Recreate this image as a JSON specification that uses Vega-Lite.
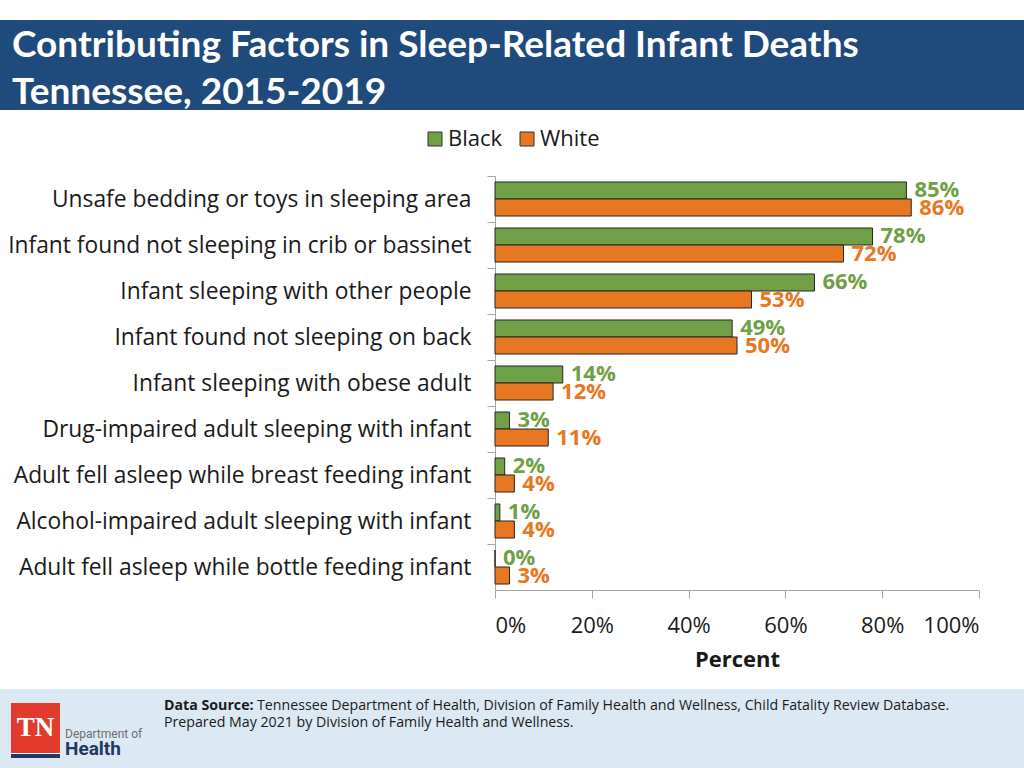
{
  "$schema": "https://vega.github.io/schema/vega-lite/v6.json",
  "padding": {"left": 0, "top": 20, "right": 0, "bottom": 0},
  "background": "white",
  "spacing": 17,
  "resolve": {"legend": {"color": "independent"}, "scale": {"color": "independent"}},
  "config": {"font": "Open Sans", "view": {"stroke": null}},
  "title": {
    "text": "Tennessee Department of Health, Division of Family Health and Wellness, Child Fatality Review Database.",
    "orient": "bottom", "anchor": "start", "frame": "bounds", "baseline": "alphabetic",
    "offset": -59, "dx": 257, "fontSize": 14.2, "fontWeight": "normal", "color": "#1a1a1a", "zindex": 1
  },
  "vconcat": [
    {
      "width": 1024,
      "height": 90,
      "view": {"fill": "#1F4A7C", "stroke": null},
      "data": {"values": []},
      "mark": {"type": "text"},
      "title": {
        "text": ["Contributing Factors in Sleep-Related Infant Deaths", "Tennessee, 2015-2019"],
        "orient": "bottom", "anchor": "start", "frame": "group", "baseline": "alphabetic",
        "offset": -53, "dx": 12,
        "font": "Lato", "fontSize": 37, "fontWeight": "bold", "color": "white", "lineHeight": 47
      }
    },
    {
      "width": 1024,
      "height": 414,
      "data": {"values": [
        {"factor": "Unsafe bedding or toys in sleeping area", "race": "Black", "pct": 0.85},
        {"factor": "Unsafe bedding or toys in sleeping area", "race": "White", "pct": 0.86},
        {"factor": "Infant found not sleeping in crib or bassinet", "race": "Black", "pct": 0.78},
        {"factor": "Infant found not sleeping in crib or bassinet", "race": "White", "pct": 0.72},
        {"factor": "Infant sleeping with other people", "race": "Black", "pct": 0.66},
        {"factor": "Infant sleeping with other people", "race": "White", "pct": 0.53},
        {"factor": "Infant found not sleeping on back", "race": "Black", "pct": 0.49},
        {"factor": "Infant found not sleeping on back", "race": "White", "pct": 0.50},
        {"factor": "Infant sleeping with obese adult", "race": "Black", "pct": 0.14},
        {"factor": "Infant sleeping with obese adult", "race": "White", "pct": 0.12},
        {"factor": "Drug-impaired adult sleeping with infant", "race": "Black", "pct": 0.03},
        {"factor": "Drug-impaired adult sleeping with infant", "race": "White", "pct": 0.11},
        {"factor": "Adult fell asleep while breast feeding infant", "race": "Black", "pct": 0.02},
        {"factor": "Adult fell asleep while breast feeding infant", "race": "White", "pct": 0.04},
        {"factor": "Alcohol-impaired adult sleeping with infant", "race": "Black", "pct": 0.01},
        {"factor": "Alcohol-impaired adult sleeping with infant", "race": "White", "pct": 0.04},
        {"factor": "Adult fell asleep while bottle feeding infant", "race": "Black", "pct": 0.00},
        {"factor": "Adult fell asleep while bottle feeding infant", "race": "White", "pct": 0.03}
      ]},
      "encoding": {
        "y": {
          "field": "factor", "type": "nominal", "sort": null, "title": null,
          "scale": {"paddingInner": 0.26, "paddingOuter": 0.13},
          "axis": {
            "offset": -495,
            "labelFontSize": 22.8, "labelColor": "#1a1a1a", "labelPadding": 16, "labelLimit": 700,
            "tickSize": 8, "tickColor": "#a6a6a6", "domainColor": "#a6a6a6",
            "tickOffset": -23, "labelOffset": 23
          }
        },
        "yOffset": {"field": "race", "type": "nominal", "sort": ["Black", "White"]},
        "x": {
          "field": "pct", "type": "quantitative", "scale": {"domain": [0, 1], "range": [495, 979]}, "title": "Percent",
          "axis": {
            "values": [0, 0.2, 0.4, 0.6, 0.8, 1], "format": ".0%", "grid": false,
            "labelFontSize": 22, "labelColor": "#1a1a1a", "labelPadding": 17,
            "tickSize": 8, "tickColor": "#a6a6a6", "domainColor": "#a6a6a6",
            "titleFontSize": 22, "titleFontWeight": "bold", "titleColor": "#1a1a1a", "titlePadding": 13
          }
        },
        "color": {
          "field": "race", "type": "nominal",
          "scale": {"domain": ["Black", "White"], "range": ["#70A046", "#E87722"]},
          "legend": {
            "title": null, "orient": "none", "legendX": 424, "legendY": -48, "padding": 0,
            "direction": "horizontal", "labelFontSize": 22, "labelColor": "#1a1a1a",
            "labelOffset": 2, "columnPadding": 13, "symbolType": "square", "symbolSize": 196,
            "symbolStrokeColor": "#333333", "symbolStrokeWidth": 1
          }
        }
      },
      "layer": [
        {"mark": {"type": "bar", "stroke": "#262626", "strokeWidth": 1}},
        {
          "mark": {"type": "text", "align": "left", "baseline": "middle", "dx": 8, "fontSize": 22, "fontWeight": "bold"},
          "encoding": {"text": {"field": "pct", "type": "quantitative", "format": ".0%"}}
        }
      ]
    },
    {
      "vconcat": [
        {"width": 1024, "height": 2, "data": {"values": []}, "mark": {"type": "text"}},
        {
          "hconcat": [
            {
              "width": 11, "height": 80, "view": {"fill": "#DBE9F4", "stroke": null},
              "data": {"values": []}, "mark": {"type": "text"}
            },
            {
              "vconcat": [
                {"width": 49, "height": 14, "view": {"fill": "#DBE9F4", "stroke": null},
                 "data": {"values": []}, "mark": {"type": "text"}},
                {"width": 49, "height": 50, "view": {"fill": "#E23B2E", "stroke": null},
                 "data": {"values": []}, "mark": {"type": "text"},
                 "title": {"text": "TN", "orient": "bottom", "anchor": "middle", "frame": "group", "baseline": "alphabetic",
                           "offset": -17, "font": "Liberation Serif, DejaVu Serif, serif", "fontSize": 27,
                           "fontWeight": "bold", "color": "white"}},
                {"width": 49, "height": 1, "view": {"fill": "#FFFFFF", "stroke": null},
                 "data": {"values": []}, "mark": {"type": "text"}},
                {"width": 49, "height": 4, "view": {"fill": "#1F3864", "stroke": null},
                 "data": {"values": []}, "mark": {"type": "text"}},
                {"width": 49, "height": 11, "view": {"fill": "#DBE9F4", "stroke": null},
                 "data": {"values": []}, "mark": {"type": "text"}}
              ],
              "spacing": 0
            },
            {
              "width": 104, "height": 80, "view": {"fill": "#DBE9F4", "stroke": null},
              "data": {"values": []}, "mark": {"type": "text"},
              "title": {
                "text": "Department of", "subtitle": "Health",
                "orient": "bottom", "anchor": "start", "frame": "group", "baseline": "alphabetic",
                "offset": -31, "dx": 5,
                "font": "Roboto", "fontSize": 12, "fontWeight": "normal", "color": "#6D6E71",
                "subtitleFont": "Roboto", "subtitleFontSize": 19, "subtitleFontWeight": "bold",
                "subtitleColor": "#1F3864", "subtitlePadding": 5
              }
            },
            {
              "width": 860, "height": 80, "view": {"fill": "#DBE9F4", "stroke": null},
              "data": {"values": []}, "mark": {"type": "text"},
              "title": {
                "text": "Data Source:", "subtitle": "Prepared May 2021 by Division of Family Health and Wellness.",
                "orient": "bottom", "anchor": "start", "frame": "group", "baseline": "alphabetic",
                "offset": -59, "fontSize": 14.2, "fontWeight": "bold", "color": "#1a1a1a",
                "subtitleFontSize": 14.2, "subtitleFontWeight": "normal", "subtitleColor": "#1a1a1a",
                "subtitlePadding": 3
              }
            }
          ],
          "spacing": 0
        }
      ],
      "spacing": 0
    }
  ]
}
